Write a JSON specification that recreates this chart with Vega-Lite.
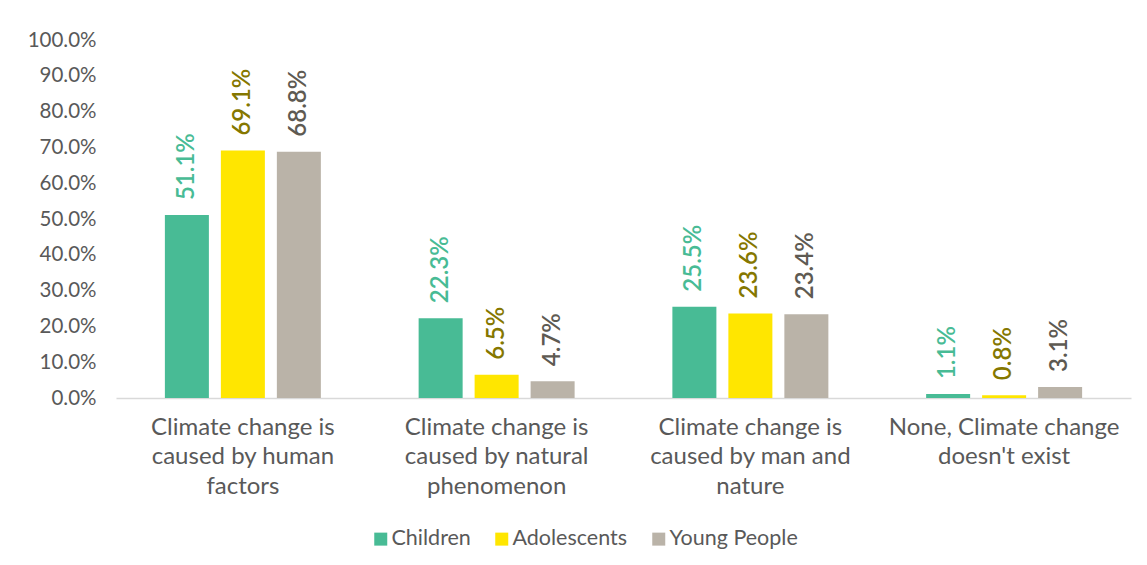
{
  "$schema": "https://vega.github.io/schema/vega-lite/v6.json",
  "autosize": {"type": "none"},
  "padding": {"left": 116, "top": 40, "right": 16, "bottom": 167},
  "width": 1015,
  "height": 358,
  "background": "white",
  "config": {
    "font": "Lato",
    "view": {"stroke": null},
    "axis": {"grid": false, "ticks": false, "labelFont": "Lato", "labelColor": "#595959", "title": null}
  },
  "data": {
    "values": [
      {"cause": "Climate change is caused by human factors", "group": "Children", "share": 0.511},
      {"cause": "Climate change is caused by human factors", "group": "Adolescents", "share": 0.691},
      {"cause": "Climate change is caused by human factors", "group": "Young People", "share": 0.688},
      {"cause": "Climate change is caused by natural phenomenon", "group": "Children", "share": 0.223},
      {"cause": "Climate change is caused by natural phenomenon", "group": "Adolescents", "share": 0.065},
      {"cause": "Climate change is caused by natural phenomenon", "group": "Young People", "share": 0.047},
      {"cause": "Climate change is caused by man and nature", "group": "Children", "share": 0.255},
      {"cause": "Climate change is caused by man and nature", "group": "Adolescents", "share": 0.236},
      {"cause": "Climate change is caused by man and nature", "group": "Young People", "share": 0.234},
      {"cause": "None, Climate change doesn't exist", "group": "Children", "share": 0.011},
      {"cause": "None, Climate change doesn't exist", "group": "Adolescents", "share": 0.008},
      {"cause": "None, Climate change doesn't exist", "group": "Young People", "share": 0.031}
    ]
  },
  "encoding": {
    "x": {
      "field": "cause", "type": "nominal", "sort": null,
      "scale": {"paddingInner": 0, "paddingOuter": 0},
      "axis": {
        "labelAngle": 0, "labelFontSize": 24, "labelLineHeight": 29.5, "labelPadding": 17,
        "labelBaseline": "top", "labelLimit": 300,
        "domainColor": "#d9d9d9", "domainWidth": 1.5,
        "labelExpr": "datum.value == 'Climate change is caused by human factors' ? ['Climate change is', 'caused by human', 'factors'] : datum.value == 'Climate change is caused by natural phenomenon' ? ['Climate change is', 'caused by natural', 'phenomenon'] : datum.value == 'Climate change is caused by man and nature' ? ['Climate change is', 'caused by man and', 'nature'] : ['None, Climate change', 'doesn\\'t exist']"
      }
    },
    "xOffset": {
      "field": "group", "type": "nominal", "sort": ["Children", "Adolescents", "Young People"],
      "scale": {"paddingInner": 0.214, "paddingOuter": 0.873}
    },
    "y": {
      "field": "share", "type": "quantitative",
      "scale": {"domain": [0, 1]},
      "axis": {"format": ".1%", "values": [0, 0.1, 0.2, 0.3, 0.4, 0.5, 0.6, 0.7, 0.8, 0.9, 1.0], "domain": false, "labelFontSize": 20.5, "labelPadding": 20}
    }
  },
  "layer": [
    {
      "mark": {"type": "bar"},
      "encoding": {
        "color": {
          "field": "group", "type": "nominal", "sort": ["Children", "Adolescents", "Young People"],
          "scale": {"domain": ["Children", "Adolescents", "Young People"], "range": ["#48BB95", "#FFE600", "#BAB3A8"]},
          "legend": {
            "title": null, "orient": "none", "direction": "horizontal",
            "legendX": 254, "legendY": 488,
            "symbolType": "square", "symbolSize": 169, "symbolStrokeWidth": 0,
            "labelFontSize": 21.5, "labelColor": "#595959", "labelFont": "Lato",
            "columnPadding": 20, "symbolOffset": 0, "labelOffset": 0
          }
        }
      }
    },
    {
      "mark": {"type": "text", "angle": 270, "align": "left", "baseline": "middle", "dx": 15, "fontSize": 24, "fontWeight": 600},
      "encoding": {
        "text": {"field": "share", "type": "quantitative", "format": ".1%"},
        "color": {
          "field": "group", "type": "nominal",
          "scale": {"domain": ["Children", "Adolescents", "Young People"], "range": ["#48BB95", "#857700", "#5E5A52"]},
          "legend": null
        }
      }
    }
  ],
  "resolve": {"scale": {"color": "independent"}}
}
